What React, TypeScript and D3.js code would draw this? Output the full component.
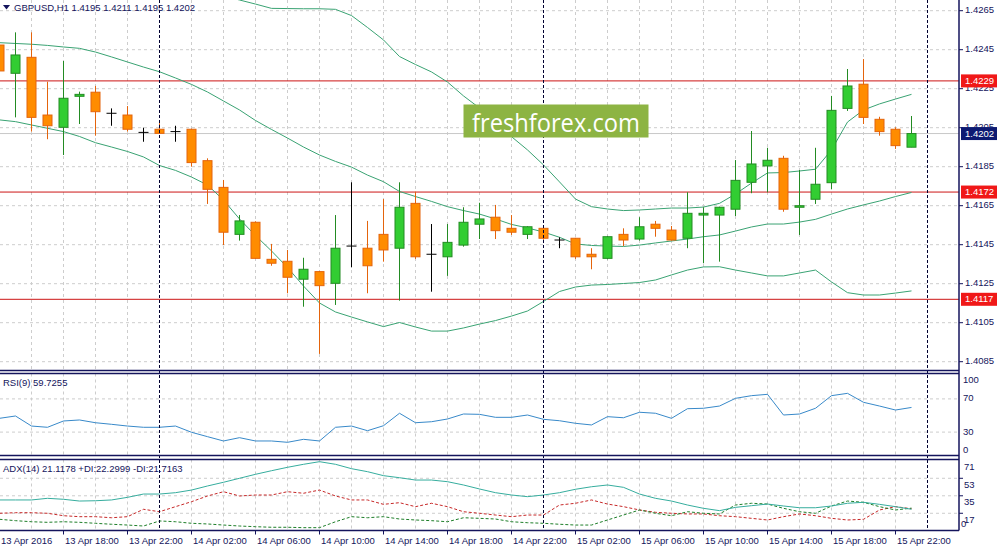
import * as d3 from "d3";

const TIME_TICKS = [
  "13 Apr 2016", "13 Apr 18:00", "13 Apr 22:00", "14 Apr 02:00", "14 Apr 06:00",
  "14 Apr 10:00", "14 Apr 14:00", "14 Apr 18:00", "14 Apr 22:00", "15 Apr 02:00",
  "15 Apr 06:00", "15 Apr 10:00", "15 Apr 14:00", "15 Apr 18:00", "15 Apr 22:00",
];

// GBPUSD H1 candles, 13 Apr 14:00 .. 15 Apr 23:00
const OPEN = [
  1.42474, 1.42329, 1.42411, 1.42115, 1.42052, 1.42211, 1.42232, 1.42124, 1.42115, 1.42026,
  1.42042, 1.42030, 1.42042, 1.41881, 1.41744, 1.41503, 1.41565, 1.41375, 1.41365, 1.41273,
  1.41312, 1.41252, 1.41443, 1.41432, 1.41503, 1.41432, 1.41662, 1.41401, 1.41388, 1.41448,
  1.41555, 1.41591, 1.41534, 1.41503, 1.41534, 1.41474, 1.41483, 1.41401, 1.41380, 1.41503,
  1.41479, 1.41555, 1.41525, 1.41483, 1.41602, 1.41602, 1.41632, 1.41770, 1.41854, 1.41893,
  1.41642, 1.41683, 1.41768, 1.42149, 1.42273, 1.42093, 1.42042, 1.41950,
];
const HIGH = [
  1.42520, 1.42539, 1.42539, 1.42286, 1.42392, 1.42235, 1.42264, 1.42149, 1.42161, 1.42050,
  1.42073, 1.42060, 1.42045, 1.41893, 1.41782, 1.41602, 1.41570, 1.41454, 1.41423, 1.41383,
  1.41315, 1.41602, 1.41770, 1.41572, 1.41684, 1.41770, 1.41722, 1.41556, 1.41556, 1.41642,
  1.41665, 1.41654, 1.41602, 1.41545, 1.41540, 1.41488, 1.41485, 1.41432, 1.41495, 1.41534,
  1.41591, 1.41572, 1.41546, 1.41719, 1.41642, 1.41645, 1.41884, 1.42033, 1.41947, 1.41906,
  1.41833, 1.41947, 1.42213, 1.42351, 1.42402, 1.42106, 1.42052, 1.42110,
];
const LOW = [
  1.42300, 1.42103, 1.42030, 1.41991, 1.41910, 1.42069, 1.42009, 1.42060, 1.42030, 1.41978,
  1.42021, 1.41978, 1.41850, 1.41659, 1.41448, 1.41471, 1.41378, 1.41342, 1.41201, 1.41132,
  1.40890, 1.41141, 1.41334, 1.41201, 1.41363, 1.41163, 1.41377, 1.41209, 1.41290, 1.41440,
  1.41479, 1.41479, 1.41500, 1.41479, 1.41475, 1.41432, 1.41377, 1.41324, 1.41375, 1.41443,
  1.41471, 1.41491, 1.41471, 1.41432, 1.41355, 1.41363, 1.41597, 1.41714, 1.41719, 1.41619,
  1.41500, 1.41659, 1.41734, 1.42136, 1.42069, 1.42009, 1.41941, 1.41950,
];
const CLOSE = [
  1.42341, 1.42423, 1.42103, 1.42060, 1.42201, 1.42221, 1.42132, 1.42124, 1.42042, 1.42026,
  1.42021, 1.42030, 1.41871, 1.41734, 1.41514, 1.41572, 1.41380, 1.41355, 1.41283, 1.41324,
  1.41240, 1.41432, 1.41443, 1.41342, 1.41423, 1.41642, 1.41388, 1.41401, 1.41462, 1.41565,
  1.41582, 1.41522, 1.41514, 1.41542, 1.41483, 1.41474, 1.41388, 1.41388, 1.41491, 1.41474,
  1.41542, 1.41534, 1.41474, 1.41611, 1.41611, 1.41642, 1.41780, 1.41864, 1.41883, 1.41632,
  1.41650, 1.41760, 1.42139, 1.42264, 1.42103, 1.42030, 1.41958, 1.42020,
];

// Bollinger bands
const BB_UPPER = [
  1.42884, 1.42884, 1.42890, 1.42895, 1.42900, 1.42910, 1.42905, 1.42874, 1.42849, 1.42823,
  1.42818, 1.42782, 1.42756, 1.42746, 1.42725, 1.42705, 1.42684, 1.42662, 1.42661, 1.42660,
  1.42660, 1.42657, 1.42625, 1.42564, 1.42500, 1.42415, 1.42374, 1.42336, 1.42284, 1.42213,
  1.42151, 1.42084, 1.42004, 1.41936, 1.41859, 1.41772, 1.41684, 1.41645, 1.41633, 1.41625,
  1.41628, 1.41633, 1.41638, 1.41638, 1.41643, 1.41662, 1.41710, 1.41766, 1.41818, 1.41820,
  1.41828, 1.41837, 1.41936, 1.42079, 1.42141, 1.42172, 1.42197, 1.42221,
];
const BB_MID = [
  1.42486, 1.42482, 1.42478, 1.42472, 1.42464, 1.42457, 1.42438, 1.42413, 1.42387, 1.42361,
  1.42337, 1.42305, 1.42272, 1.42233, 1.42187, 1.42141, 1.42087, 1.42041, 1.41997, 1.41951,
  1.41910, 1.41877, 1.41848, 1.41807, 1.41773, 1.41723, 1.41697, 1.41672, 1.41645, 1.41625,
  1.41607, 1.41582, 1.41554, 1.41536, 1.41515, 1.41488, 1.41454, 1.41446, 1.41443, 1.41441,
  1.41448, 1.41459, 1.41469, 1.41479, 1.41491, 1.41500, 1.41520, 1.41541, 1.41556, 1.41556,
  1.41566, 1.41580, 1.41607, 1.41633, 1.41654, 1.41674, 1.41697, 1.41718,
];
const BB_LOWER = [
  1.42090, 1.42081, 1.42064, 1.42047, 1.42030, 1.42005, 1.41973, 1.41951, 1.41928, 1.41900,
  1.41856, 1.41831, 1.41797, 1.41756, 1.41679, 1.41582, 1.41497, 1.41418, 1.41333, 1.41238,
  1.41151, 1.41105, 1.41079, 1.41054, 1.41030, 1.41051, 1.41028, 1.41007, 1.41007, 1.41023,
  1.41043, 1.41061, 1.41084, 1.41110, 1.41159, 1.41210, 1.41233, 1.41243, 1.41246, 1.41251,
  1.41256, 1.41269, 1.41295, 1.41320, 1.41336, 1.41337, 1.41320, 1.41305, 1.41290, 1.41290,
  1.41305, 1.41320, 1.41259, 1.41204, 1.41192, 1.41192, 1.41202, 1.41213,
];

const RSI9 = [
  46.6, 49.4, 37.3, 35.8, 43.4, 44.6, 41.3, 39.4, 37.3, 35.8,
  35.8, 37.3, 29.8, 24.5, 19.3, 23.3, 19.3, 19.3, 17.7, 21.3,
  19.3, 35.8, 37.3, 31.7, 37.7, 52.7, 41.3, 42.5, 45.8, 51.8,
  51.4, 47.8, 47.8, 50.6, 45.4, 43.7, 40.6, 38.6, 48.6, 47.3,
  53.9, 52.7, 46.6, 58.2, 58.7, 61.4, 70.7, 73.9, 75.5, 50.6,
  51.8, 58.7, 73.9, 76.7, 65.9, 61.4, 56.6, 59.7,
];
const ADX14 = [
  30.7, 30.7, 30.7, 32.4, 31.4, 29.6, 29.9, 30.7, 33.4, 36.8,
  36.8, 38.2, 40.9, 45.1, 48.9, 53.0, 57.1, 60.8, 64.3, 67.4,
  70.1, 67.4, 62.9, 59.8, 55.7, 53.6, 51.2, 51.2, 49.5, 46.1,
  42.0, 38.2, 35.8, 34.1, 35.8, 38.2, 41.7, 44.3, 46.1, 43.7,
  36.8, 32.4, 29.6, 25.5, 22.1, 19.7, 23.1, 24.8, 26.5, 24.5,
  22.7, 22.7, 24.5, 27.3, 28.3, 26.2, 23.8, 21.1,
];
const PLUS_DI = [
  10.8, 9.4, 8.3, 7.7, 8.3, 7.7, 6.7, 5.7, 4.9, 3.9,
  9.1, 8.3, 6.7, 6.0, 4.9, 3.9, 3.2, 2.6, 2.6, 2.2,
  2.2, 8.3, 13.5, 12.4, 13.5, 11.1, 10.1, 9.4, 8.3, 12.4,
  11.8, 11.1, 8.3, 7.3, 6.7, 5.7, 4.9, 4.9, 10.1, 15.2,
  20.4, 17.0, 14.5, 18.6, 17.0, 16.3, 25.5, 27.3, 26.5, 22.1,
  18.6, 17.0, 24.5, 29.6, 28.3, 23.8, 20.4, 22.3,
];
const MINUS_DI = [
  17.0, 17.6, 17.6, 17.0, 14.5, 13.5, 13.5, 12.4, 13.5, 21.1,
  18.6, 23.8, 28.9, 34.8, 39.2, 34.8, 35.8, 35.8, 39.2, 37.6,
  40.9, 34.8, 30.7, 30.7, 26.2, 27.9, 23.8, 27.3, 23.8, 18.6,
  17.0, 15.2, 13.5, 15.2, 15.2, 25.5, 27.3, 30.7, 26.5, 23.8,
  20.4, 18.0, 17.0, 16.3, 16.3, 14.5, 13.5, 11.8, 10.1, 13.5,
  16.3, 14.5, 11.8, 10.1, 10.8, 20.4, 23.8, 21.7,
];

const PRICE_TICKS = [1.4265, 1.4245, 1.4225, 1.4205, 1.4185, 1.4165, 1.4145, 1.4125, 1.4105, 1.4085];
const LEVELS = [1.4229, 1.4172, 1.4117];
const LAST_PRICE = 1.4202;
const DAY_BREAKS = [10, 34, 58];
const RSI_TICKS = [100, 70, 30, 0];
const RSI_GRID = [70, 30];
const ADX_TICKS = [71, 53, 35, 17, 0];
const ADX_GRID = [53, 35, 17];

const W = 1001;
const H = 551;
const RIGHT = 959;
const MAIN = { top: 0, bottom: 370.5 };
const RSI_P = { top: 373.5, bottom: 455.5 };
const ADX_P = { top: 459.5, bottom: 530.5 };

const NAVY = "#14145c";
const GRID = "#cdcdcd";
const FONT = "'Liberation Sans', Arial, sans-serif";

const x = d3.scaleLinear().domain([0, 57]).range([-0.5, 911.5]);
const y = d3.scaleLinear().domain([1.4085, 1.4265]).range([361.7, 10.7]);
const yRsi = d3.scaleLinear().domain([0, 100]).range([457, 374]);
const yAdx = d3.scaleLinear().domain([0, 71]).range([529.8, 460.8]);

const fmt = d3.format(".4f");

function pathOf(vals: number[], ys: d3.ScaleLinear<number, number>) {
  return d3.line<number>().x((_, i) => x(i)).y(v => ys(v))(vals) || "";
}

const gridXs = d3.range(2, 59, 2).filter(i => !DAY_BREAKS.includes(i));

function VGrid({ top, bottom }: { top: number; bottom: number }) {
  return (
    <g>
      {gridXs.map(i => (
        <line key={i} x1={x(i)} x2={x(i)} y1={top} y2={bottom} stroke={GRID} strokeDasharray="3,3" />
      ))}
    </g>
  );
}

export default function App() {
  const bull = { fill: "#32cd32", stroke: "#238b23" };
  const bear = { fill: "#ff8c00", stroke: "#e4640c" };

  return (
    <svg width={W} height={H} style={{ position: "absolute", left: 0, top: 0, background: "#fff", fontFamily: FONT }}>
      <defs>
        <clipPath id="cMain"><rect x={0} y={MAIN.top} width={RIGHT} height={MAIN.bottom - MAIN.top} /></clipPath>
        <clipPath id="cRsi"><rect x={0} y={RSI_P.top} width={RIGHT} height={RSI_P.bottom - RSI_P.top} /></clipPath>
        <clipPath id="cAdx"><rect x={0} y={ADX_P.top} width={RIGHT} height={ADX_P.bottom - ADX_P.top} /></clipPath>
      </defs>
      <rect width={W} height={H} fill="#fff" />

      {/* ---------- main price panel ---------- */}
      <g clipPath="url(#cMain)">
        <VGrid top={MAIN.top} bottom={MAIN.bottom} />
        {PRICE_TICKS.map(p => (
          <line key={p} x1={0} x2={RIGHT} y1={y(p)} y2={y(p)} stroke={GRID} strokeDasharray="3,3" />
        ))}
        <line x1={0} x2={RIGHT} y1={y(LAST_PRICE)} y2={y(LAST_PRICE)} stroke="#c8c8c8" />
        {LEVELS.map(p => (
          <line key={p} x1={0} x2={RIGHT} y1={y(p)} y2={y(p)} stroke="#cc1414" />
        ))}
        {[BB_UPPER, BB_MID, BB_LOWER].map((b, k) => (
          <path key={k} d={pathOf(b, y)} fill="none" stroke="#3aa373" strokeWidth={1} />
        ))}
        {OPEN.map((o, i) => {
          const c = CLOSE[i];
          const cx = x(i);
          if (o === c) {
            return (
              <g key={i} stroke="#000">
                <line x1={cx} x2={cx} y1={y(HIGH[i])} y2={y(LOW[i])} />
                <line x1={cx - 5} x2={cx + 5} y1={y(o)} y2={y(o)} />
              </g>
            );
          }
          const col = c > o ? bull : bear;
          const top = y(Math.max(o, c));
          const h = Math.max(1, y(Math.min(o, c)) - top);
          return (
            <g key={i}>
              <line x1={cx} x2={cx} y1={y(HIGH[i])} y2={y(LOW[i])} stroke={col.stroke} />
              <rect x={cx - 4.5} y={top} width={9} height={h} fill={col.fill} stroke={col.stroke} />
            </g>
          );
        })}
      </g>

      {/* ---------- RSI panel ---------- */}
      <g clipPath="url(#cRsi)">
        <VGrid top={RSI_P.top} bottom={RSI_P.bottom} />
        {RSI_GRID.map(v => (
          <line key={v} x1={0} x2={RIGHT} y1={yRsi(v)} y2={yRsi(v)} stroke={GRID} strokeDasharray="3,3" />
        ))}
        <path d={pathOf(RSI9, yRsi)} fill="none" stroke="#3889c9" strokeWidth={1} />
      </g>

      {/* ---------- ADX panel ---------- */}
      <g clipPath="url(#cAdx)">
        <VGrid top={ADX_P.top} bottom={ADX_P.bottom} />
        {ADX_GRID.map(v => (
          <line key={v} x1={0} x2={RIGHT} y1={yAdx(v)} y2={yAdx(v)} stroke={GRID} strokeDasharray="3,3" />
        ))}
        <path d={pathOf(MINUS_DI, yAdx)} fill="none" stroke="#c62828" strokeDasharray="3,2" />
        <path d={pathOf(PLUS_DI, yAdx)} fill="none" stroke="#1f7f2a" strokeDasharray="3,2" />
        <path d={pathOf(ADX14, yAdx)} fill="none" stroke="#36ad9e" strokeWidth={1} />
      </g>

      {/* day separators */}
      {DAY_BREAKS.map(i => (
        <line key={i} x1={x(i)} x2={x(i)} y1={0} y2={ADX_P.bottom} stroke="#000030" strokeDasharray="3,2" />
      ))}

      {/* watermark */}
      <rect x={463.5} y={104.5} width={185} height={33} fill="#8db443" />
      <text x={472} y={131.5} fill="#fff" fontFamily="'Open Sans', sans-serif" fontSize={26}
        textLength={168} lengthAdjust="spacingAndGlyphs">freshforex.com</text>

      {/* panel frames */}
      <g stroke={NAVY} strokeWidth={1.5} fill="none">
        <line x1={0} x2={RIGHT} y1={MAIN.bottom} y2={MAIN.bottom} />
        <line x1={0} x2={RIGHT} y1={RSI_P.top} y2={RSI_P.top} />
        <line x1={0} x2={RIGHT} y1={RSI_P.bottom} y2={RSI_P.bottom} />
        <line x1={0} x2={RIGHT} y1={ADX_P.top} y2={ADX_P.top} />
        <line x1={0} x2={RIGHT} y1={ADX_P.bottom} y2={ADX_P.bottom} />
        <line x1={RIGHT} x2={RIGHT} y1={0} y2={ADX_P.bottom} />
      </g>

      {/* price axis */}
      <g fontSize={9.5} fill={NAVY}>
        {PRICE_TICKS.map(p => (
          <g key={p}>
            <line x1={RIGHT} x2={RIGHT + 4} y1={y(p)} y2={y(p)} stroke={NAVY} />
            <text x={965} y={y(p)} dominantBaseline="middle">{fmt(p)}</text>
          </g>
        ))}
      </g>
      {LEVELS.map(p => (
        <g key={p}>
          <rect x={961} y={y(p) - 6.5} width={36} height={13} fill="#f01818" />
          <text x={965} y={y(p) + 0.5} dominantBaseline="middle" fill="#fff" fontSize={9.5}>{fmt(p)}</text>
        </g>
      ))}
      <rect x={961} y={y(LAST_PRICE) - 6.5} width={36} height={13} fill="#0d1a72" />
      <text x={965} y={y(LAST_PRICE) + 0.5} dominantBaseline="middle" fill="#fff" fontSize={9.5}>{fmt(LAST_PRICE)}</text>

      {/* RSI axis */}
      <g fontSize={9.5} fill={NAVY}>
        {RSI_TICKS.map((v, k) => {
          const off = k === 0 ? 6 : k === RSI_TICKS.length - 1 ? -7 : 0;
          return <text key={v} x={963} y={yRsi(v) + off} dominantBaseline="middle">{v}</text>;
        })}
        {ADX_TICKS.map(v => (
          <text key={v} x={v === 0 ? 961 : 964} y={v === 0 ? yAdx(v) - 5 : yAdx(v) + 7} dominantBaseline="middle">{v}</text>
        ))}
        {ADX_GRID.map(v => (
          <line key={v} x1={RIGHT} x2={RIGHT + 4} y1={yAdx(v)} y2={yAdx(v)} stroke={NAVY} />
        ))}
      </g>

      {/* time axis */}
      <g fontSize={9.5} fill={NAVY}>
        {TIME_TICKS.map((t, k) => (
          <g key={t}>
            <line x1={x(k * 4)} x2={x(k * 4)} y1={ADX_P.bottom} y2={ADX_P.bottom + 4} stroke={NAVY} />
            <text x={x(k * 4) + 1.5} y={541} dominantBaseline="middle">{t}</text>
          </g>
        ))}
      </g>

      {/* titles */}
      <path d="M3,5 L10,5 L6.5,9.5 Z" fill={NAVY} />
      <text x={14} y={8} dominantBaseline="middle" fontSize={9.5} fill={NAVY}>
        {`GBPUSD,H1  ${fmt(OPEN[57])} ${fmt(HIGH[57])} ${fmt(LOW[57])} ${fmt(CLOSE[57])}`}
      </text>
      <text x={3} y={383} dominantBaseline="middle" fontSize={9.5} fill={NAVY}>RSI(9) 59.7255</text>
      <text x={3} y={469} dominantBaseline="middle" fontSize={9.5} fill={NAVY}>ADX(14) 21.1178 +DI:22.2999 -DI:21.7163</text>
    </svg>
  );
}
